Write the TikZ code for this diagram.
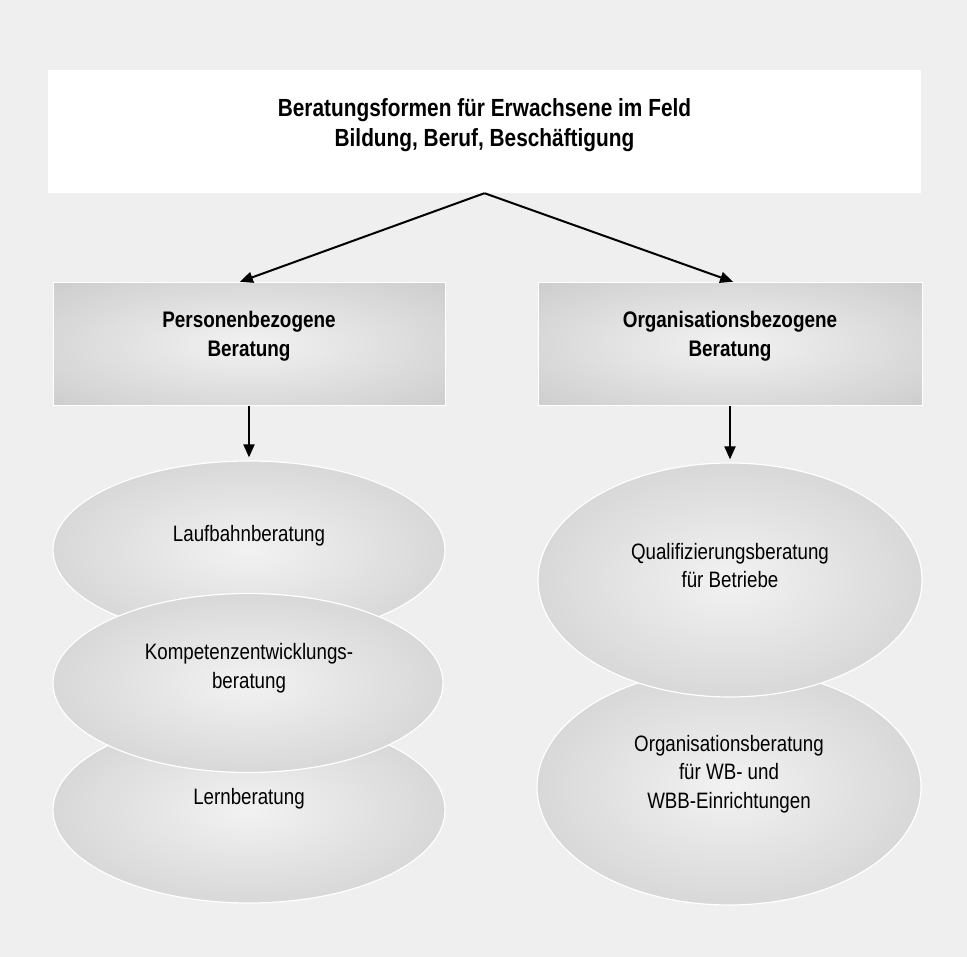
\documentclass[tikz,border=0pt]{standalone}
\usepackage{fontspec}
\setmainfont{Liberation Sans}[FakeStretch=0.84]
\usetikzlibrary{shapes.geometric,arrows.meta}
\definecolor{bgc}{HTML}{EFEFEF}
\definecolor{shin}{HTML}{F2F2F2}
\definecolor{shout}{HTML}{BEBEBE}
\pgfdeclareradialshading{softrad}{\pgfpoint{0bp}{0bp}}{color(0bp)=(shin); color(50bp)=(shout); color(100bp)=(shout)}
\begin{document}
\begin{tikzpicture}[x=1pt,y=-1pt,
  every node/.style={inner sep=0pt, align=center},
  topbox/.style={rectangle, fill=white, minimum width=873pt, minimum height=123pt},
  hbox/.style={rectangle, draw=white, line width=1pt, shading=softrad, minimum height=123pt},
  ell/.style={ellipse, draw=white, line width=1.2pt, shading=softrad},
  arr/.style={line width=2pt, -{Triangle[length=13pt,width=11pt]}},
  ttext/.style={font=\bfseries\fontsize{24.8}{30}\selectfont},
  htext/.style={font=\bfseries\fontsize{22.5}{29}\selectfont},
  etext/.style={font=\fontsize{22.3}{28.5}\selectfont},
]
\fill[bgc] (0,0) rectangle (967,957);
\useasboundingbox (0,0) rectangle (967,957);

% title
\node[topbox] (title) at (484.5,131.5) {};
\node[ttext] (titletext) at (484.5,125.5) {Beratungsformen für Erwachsene im Feld\\Bildung, Beruf, Beschäftigung};

% heading boxes
\node[hbox, minimum width=392pt] (lbox) at (249,344.5) {};
\node[htext] (lboxtext) at (249,336.7) {Personenbezogene\\Beratung};
\node[hbox, minimum width=384pt] (rbox) at (730,344.5) {};
\node[htext] (rboxtext) at (730,336.7) {Organisationsbezogene\\Beratung};

% left ellipses (middle one on top)
\node[ell, minimum width=392pt, minimum height=178pt] (e1) at (249,550) {};
\node[ell, minimum width=392pt, minimum height=186pt] (e3) at (249,810) {};
\node[ell, minimum width=390pt, minimum height=179pt] (e2) at (248,683) {};
\node[etext] (e1t) at (249,536.2) {Laufbahnberatung};
\node[etext] (e2t) at (249,668.2) {Kompetenzentwicklungs-\\beratung};
\node[etext] (e3t) at (249,799.2) {Lernberatung};

% right ellipses (upper one on top)
\node[ell, minimum width=384pt, minimum height=236pt] (eB) at (729,787) {};
\node[ell, minimum width=384pt, minimum height=234pt] (eA) at (730,580) {};
\node[etext] (eAt) at (730,565.7) {Qualifizierungsberatung\\für Betriebe};
\node[etext] (eBt) at (729,774.2) {Organisationsberatung\\für WB- und\\WBB-Einrichtungen};

% connectors
\draw[arr, shorten >=2pt] (title.south) -- ([xshift=-11pt]lbox.north);
\draw[arr, shorten >=2pt] (title.south) -- ([xshift=5pt]rbox.north);
\draw[arr, shorten >=3pt] (lbox.south) -- (e1.north);
\draw[arr, shorten >=3pt] (rbox.south) -- (eA.north);
\end{tikzpicture}
\end{document}
